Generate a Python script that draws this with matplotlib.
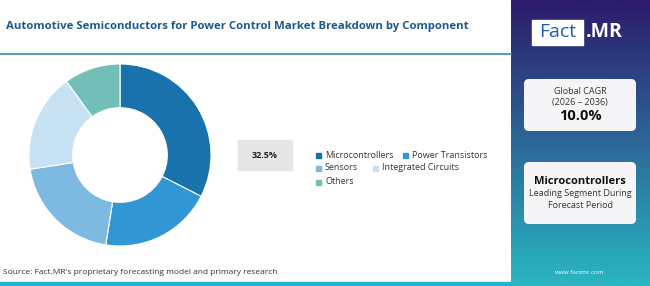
import numpy as np
import matplotlib.pyplot as plt
from matplotlib.patches import FancyBboxPatch, Rectangle

segments = ["Microcontrollers", "Power Transistors", "Sensors", "Integrated Circuits", "Others"]
shares = [32.5, 20.0, 20.0, 17.5, 10.0]
colors = ["#1a72ac", "#3196d4", "#7db9e0", "#c6e2f3", "#72bfb8"]

title = "Automotive Semiconductors for Power Control Market Breakdown by Component"
cagr_label = "Global CAGR"
cagr_period = "(2026 – 2036)"
cagr_value = "10.0%"
lead_segment = "Microcontrollers"
source = "Source: Fact.MR's proprietary forecasting model and primary research"

W, H = 650, 286
plt.rcParams["font.family"] = ["Open Sans", "DejaVu Sans"]
fig = plt.figure(figsize=(W / 100, H / 100), dpi=100)
fig.patch.set_facecolor("white")


def fx(x):
    return x / W


def fy(y):
    return 1 - y / H


# background overlay axes in pixel coords
bg = fig.add_axes([0, 0, 1, 1])
bg.axis("off")

# right gradient panel
grad = np.linspace(0, 1, 256).reshape(-1, 1)
top = np.array([0x2d, 0x1a, 0x6b]) / 255
bot = np.array([0x2a, 0xb6, 0xc2]) / 255
img = top + (bot - top) * grad[:, :, None]
bg.imshow(img, extent=[511, W, H, 0], aspect="auto", zorder=0)
bg.set_xlim(0, W)
bg.set_ylim(H, 0)

# bottom strip and title underline
bg.add_patch(Rectangle((0, 282), 511, 4, color="#22b2dc", zorder=1))
bg.plot([0, 511], [54, 54], color="#3a86c4", lw=1.2, zorder=1)

bg.text(6, 27, title, fontsize=8.2, fontweight="bold", color="#1b5a8c", va="center", ha="left")
bg.text(3, 272, source, fontsize=6, color="#333333", va="center", ha="left")

# logo
bg.add_patch(Rectangle((532, 20), 51, 25, color="white", zorder=2))
bg.text(557.5, 32, "Fact", fontsize=14, color="#1e5fa8", ha="center", va="center", zorder=3)
bg.text(586, 32, ".MR", fontsize=14, color="white", fontweight="bold", ha="left", va="center", zorder=3)

# info boxes
for y0, h in [(79, 52), (162, 62)]:
    bg.add_patch(FancyBboxPatch((524, y0), 112, h, boxstyle="round,pad=0,rounding_size=5",
                                facecolor="#f5f5f7", edgecolor="none", zorder=2))
bg.text(580, 91, cagr_label, fontsize=6.5, color="#333333", ha="center", va="center", zorder=3)
bg.text(580, 102, cagr_period, fontsize=6.5, color="#333333", ha="center", va="center", zorder=3)
bg.text(580, 116, cagr_value, fontsize=10.5, fontweight="bold", color="#111111", ha="center", va="center", zorder=3)
bg.text(580, 182, lead_segment, fontsize=8, fontweight="bold", color="#111111", ha="center", va="center", zorder=3)
bg.text(580, 194, "Leading Segment During", fontsize=6.5, color="#333333", ha="center", va="center", zorder=3)
bg.text(580, 205, "Forecast Period", fontsize=6.5, color="#333333", ha="center", va="center", zorder=3)
bg.text(580, 273, "www.factmr.com", fontsize=4.5, color="white", ha="center", va="center", zorder=3)

# value box
bg.add_patch(Rectangle((238, 140), 54, 30, color="#e6e6e6", zorder=2))
bg.text(265, 155, f"{shares[0]}%", fontsize=6.5, fontweight="bold", color="#222222",
        ha="center", va="center", zorder=3)

# legend
legend_rows = [[0, 1], [2, 3], [4]]
row_y = [155, 168, 182]
col_x = [[316, 403], [316, 373], [316]]
for r, idxs in enumerate(legend_rows):
    for c, i in enumerate(idxs):
        x = col_x[r][c]
        bg.add_patch(Rectangle((x, row_y[r] - 2.5), 5, 5, color=colors[i], zorder=2))
        bg.text(x + 9, row_y[r], segments[i], fontsize=6.5, color="#333333",
                ha="left", va="center", zorder=3)

# donut
cx, cy, R = 120, 155, 91
ax = fig.add_axes([fx(cx - 100), fy(cy + 100), 200 / W, 200 / H])
ax.pie(shares, colors=colors, startangle=90, counterclock=False, radius=1,
       wedgeprops=dict(width=0.48, edgecolor="white", linewidth=0.8))
ax.set_xlim(-100 / R, 100 / R)
ax.set_ylim(-100 / R, 100 / R)
ax.set_aspect("auto")
ax.axis("off")

fig.savefig("out.png", dpi=100)
